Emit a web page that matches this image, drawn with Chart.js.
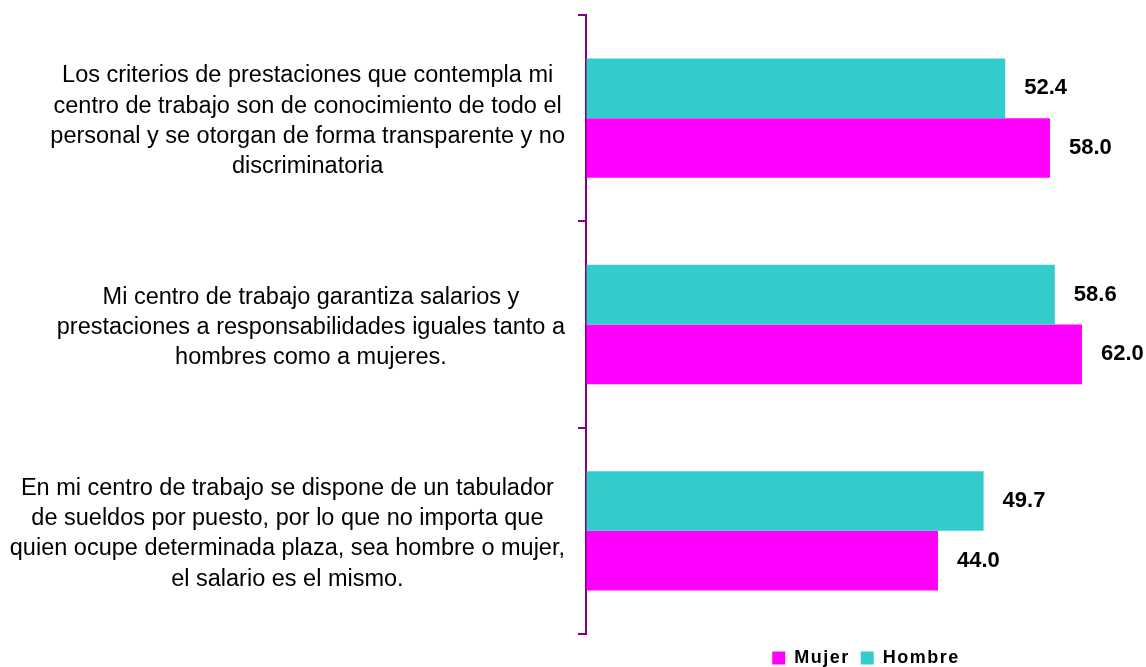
<!DOCTYPE html>
<html>
<head>
<meta charset="utf-8">
<script src="https://cdn.jsdelivr.net/npm/chart.js@4.4.1/dist/chart.umd.min.js"></script>
<style>
html,body{margin:0;padding:0;background:#ffffff;}
#wrap{width:1146px;height:667px;}
</style>
</head>
<body>
<div id="wrap"><canvas id="c" width="1146" height="667"></canvas></div>
<script>
// ---- data ----
const categories = [
  ["Los criterios de prestaciones que contempla mi", "centro de trabajo son de conocimiento de todo el", "personal y se otorgan de forma transparente y no", "discriminatoria"],
  ["Mi centro de trabajo garantiza salarios y", "prestaciones a responsabilidades iguales tanto a", "hombres como a mujeres."],
  ["En mi centro de trabajo se dispone de un tabulador", "de sueldos por puesto, por lo que no importa que", "quien ocupe determinada plaza, sea hombre o mujer,", "el salario es el mismo."]
];
const seriesNames = ["Hombre", "Mujer"];
const hombreValues = [52.4, 58.6, 49.7];
const mujerValues = [58.0, 62.0, 44.0];
const xMin = 0;
const xMax = 70;

// ---- styles ----
const FONT = "'Liberation Sans', Arial, Helvetica, sans-serif";
const TEAL = "#33CCCC";
const MAGENTA = "#FF00FF";
const PURPLE = "#800080";
const LABEL_SIZE = 23.5;
const LABEL_LINE = 30.3;
const LABEL_GAP = 21;   // gap between label block right edge and axis line

// category labels: each block right-aligned to the axis, lines centered within the block
const categoryLabels = {
  id: 'categoryLabels',
  afterDraw(chart) {
    const scale = chart.scales.y;
    const ctx = chart.ctx;
    ctx.save();
    ctx.font = LABEL_SIZE + "px " + FONT;
    ctx.fillStyle = "#000";
    ctx.textAlign = "center";
    ctx.textBaseline = "middle";
    const right = scale.right - LABEL_GAP;
    scale.ticks.forEach((t, i) => {
      const lines = chart.data.labels[i];
      const widest = Math.max(...lines.map(l => ctx.measureText(l).width));
      const cx = right - widest / 2;
      const cy = scale.getPixelForTick(i) + 3;
      const y0 = cy - (lines.length - 1) * LABEL_LINE / 2;
      lines.forEach((l, k) => ctx.fillText(l, cx, y0 + k * LABEL_LINE));
    });
    ctx.restore();
  }
};

const valueLabels = {
  id: 'valueLabels',
  afterDatasetsDraw(chart) {
    const ctx = chart.ctx;
    ctx.save();
    ctx.font = "bold 22px " + FONT;
    ctx.fillStyle = "#000";
    ctx.textAlign = "left";
    ctx.textBaseline = "middle";
    chart.data.datasets.forEach((ds, i) => {
      const meta = chart.getDatasetMeta(i);
      meta.data.forEach((el, j) => {
        ctx.fillText(Number(ds.data[j]).toFixed(1), el.x + 19, el.y);
      });
    });
    ctx.restore();
  }
};

const legendSpacing = {
  id: 'legendSpacing',
  afterInit(chart) {
    const lg = chart.legend;
    if (!lg) return;
    const wrap = (name) => {
      const orig = lg[name];
      lg[name] = function () {
        const ctx = chart.ctx;
        const prev = ctx.letterSpacing;
        ctx.letterSpacing = '1.5px';
        const r = orig.apply(this, arguments);
        ctx.letterSpacing = prev || '0px';
        return r;
      };
    };
    wrap('update');
    wrap('draw');
  }
};

new Chart(document.getElementById('c'), {
  type: 'bar',
  data: {
    labels: categories,
    datasets: [
      { label: seriesNames[0], data: hombreValues, backgroundColor: TEAL, borderWidth: 0,
        categoryPercentage: 0.578, barPercentage: 1.0 },
      { label: seriesNames[1], data: mujerValues, backgroundColor: MAGENTA, borderWidth: 0,
        categoryPercentage: 0.578, barPercentage: 1.0 }
    ]
  },
  options: {
    indexAxis: 'y',
    responsive: false,
    animation: false,
    devicePixelRatio: 1,
    layout: { padding: { top: 15, right: 0, bottom: -10, left: 0 } },
    scales: {
      x: {
        min: xMin, max: xMax,
        display: true,
        ticks: { display: false },
        grid: { display: true, drawOnChartArea: false, drawTicks: true, tickLength: 4, color: 'rgba(0,0,0,0)' },
        border: { display: false },
        afterFit(scale) { scale.paddingLeft = 0; scale.paddingRight = 0; }
      },
      y: {
        afterFit(scale) { scale.width = 586; scale.paddingTop = 0; scale.paddingBottom = 0; },
        ticks: { display: false },
        grid: { display: true, offset: true, drawOnChartArea: false, drawTicks: true, tickLength: 8, color: PURPLE, lineWidth: 2 },
        border: { display: true, color: PURPLE, width: 2 }
      }
    },
    plugins: {
      legend: {
        position: 'bottom',
        fullSize: false,
        align: 'center',
        reverse: true,
        labels: {
          boxWidth: 13, boxHeight: 13, padding: 11,
          color: '#000',
          font: { family: FONT, size: 18, weight: 'bold' }
        }
      },
      tooltip: { enabled: false }
    }
  },
  plugins: [categoryLabels, valueLabels, legendSpacing]
});
</script>
</body>
</html>
